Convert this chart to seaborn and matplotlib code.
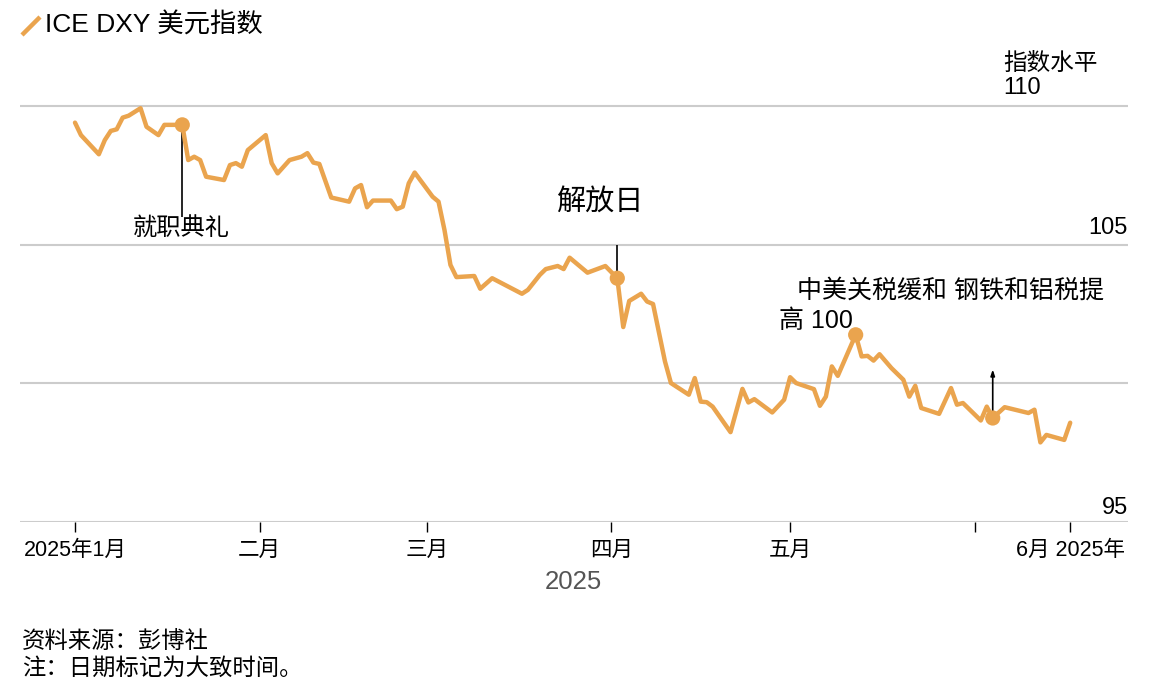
import pandas as pd
import matplotlib
matplotlib.use("Agg")
import matplotlib.pyplot as plt
import matplotlib.transforms as mtransforms
from matplotlib.lines import Line2D
import seaborn as sns

# ICE DXY 读数
dates = [
    "2025-01-01", "2025-01-02", "2025-01-05", "2025-01-06", "2025-01-07", "2025-01-08",
    "2025-01-09", "2025-01-10", "2025-01-12", "2025-01-13", "2025-01-15", "2025-01-16",
    "2025-01-17", "2025-01-19", "2025-01-20", "2025-01-21", "2025-01-22", "2025-01-23",
    "2025-01-26", "2025-01-27", "2025-01-28", "2025-01-29", "2025-01-30", "2025-02-02",
    "2025-02-03", "2025-02-04", "2025-02-06", "2025-02-08", "2025-02-09", "2025-02-10",
    "2025-02-11", "2025-02-13", "2025-02-16", "2025-02-17", "2025-02-18", "2025-02-19",
    "2025-02-20", "2025-02-23", "2025-02-24", "2025-02-25", "2025-02-26", "2025-02-27",
    "2025-03-02", "2025-03-03", "2025-03-04", "2025-03-05", "2025-03-06", "2025-03-09",
    "2025-03-10", "2025-03-12", "2025-03-17", "2025-03-18", "2025-03-20", "2025-03-21",
    "2025-03-23", "2025-03-24", "2025-03-25", "2025-03-28", "2025-03-31", "2025-04-02",
    "2025-04-03", "2025-04-04", "2025-04-06", "2025-04-07", "2025-04-08", "2025-04-10",
    "2025-04-11", "2025-04-14", "2025-04-15", "2025-04-16", "2025-04-17", "2025-04-18",
    "2025-04-21", "2025-04-23", "2025-04-24", "2025-04-25", "2025-04-28", "2025-04-30",
    "2025-05-01", "2025-05-02", "2025-05-05", "2025-05-06", "2025-05-07", "2025-05-08",
    "2025-05-09", "2025-05-12", "2025-05-13", "2025-05-14", "2025-05-15", "2025-05-16",
    "2025-05-18", "2025-05-20", "2025-05-21", "2025-05-22", "2025-05-23", "2025-05-26",
    "2025-05-28", "2025-05-29", "2025-05-30", "2025-06-02", "2025-06-03", "2025-06-04",
    "2025-06-06", "2025-06-10", "2025-06-11", "2025-06-12", "2025-06-13", "2025-06-16",
    "2025-06-17",
]
values = [
    109.40, 108.95, 108.26, 108.77, 109.10, 109.16,
    109.58, 109.65, 109.92, 109.25, 108.95, 109.32,
    109.32, 109.32, 108.05, 108.17, 108.05, 107.45,
    107.33, 107.87, 107.94, 107.81, 108.41, 108.95,
    107.94, 107.57, 108.05, 108.17, 108.30, 107.96,
    107.91, 106.70, 106.55, 107.03, 107.15, 106.35,
    106.59, 106.59, 106.28, 106.37, 107.21, 107.60,
    106.73, 106.55, 105.53, 104.27, 103.83, 103.87,
    103.41, 103.79, 103.23, 103.37, 103.91, 104.12,
    104.23, 104.12, 104.53, 103.99, 104.23, 103.79,
    102.03, 102.97, 103.23, 102.95, 102.86, 100.79,
    100.01, 99.59, 100.19, 99.34, 99.32, 99.16,
    98.24, 99.80, 99.31, 99.43, 98.95, 99.41,
    100.22, 100.01, 99.79, 99.19, 99.52, 100.61,
    100.27, 101.75, 100.97, 100.99, 100.82, 101.05,
    100.55, 100.13, 99.52, 99.91, 99.11, 98.90,
    99.83, 99.23, 99.29, 98.66, 99.16, 98.75,
    99.14, 98.93, 99.05, 97.87, 98.14, 97.96,
    98.58,
]

event_dates = ["2025-01-19", "2025-04-02", "2025-05-12", "2025-06-04"]

tick_dates = ["2025-01-01", "2025-02-01", "2025-03-01", "2025-04-01",
              "2025-05-01", "2025-06-01", "2025-06-17"]
tick_labels = ["2025年1月", "二月", "三月", "四月", "五月", "", "6月 2025年"]

grid_levels = [95, 100, 105, 110]

LINE = "#EAA44E"
GRID = "#CCCCCC"

df = pd.DataFrame({"date": pd.to_datetime(dates), "dxy": values})
ev = df[df["date"].isin(pd.to_datetime(event_dates))]

sns.set_style("white")
plt.rcParams["font.family"] = ["Liberation Sans", "Noto Sans CJK SC", "DejaVu Sans"]
plt.rcParams["text.color"] = "black"
plt.rcParams["xtick.labelcolor"] = "black"

fig = plt.figure(figsize=(11.62, 6.98), dpi=100)
W, H = 1162, 698
ax = fig.add_axes([20 / W, 176 / H, 1108 / W, 0.6556])

for g in grid_levels:
    ax.axhline(g, color=GRID, lw=1.5, zorder=0)

sns.lineplot(data=df, x="date", y="dxy", color=LINE, lw=3.2, ax=ax, zorder=3)
sns.scatterplot(data=ev, x="date", y="dxy", color=LINE, s=120, edgecolor="none",
                ax=ax, zorder=4)

start = pd.Timestamp("2025-01-01")
ax.set_xlim(start - pd.Timedelta(days=9.23), start + pd.Timedelta(days=176.7))
ax.set_ylim(95, 111.5)

ax.set_xticks(pd.to_datetime(tick_dates))
ax.set_xticklabels(tick_labels, fontsize=15.5, color="black")
ax.tick_params(axis="x", length=7, width=1, color="black", pad=6, bottom=True)
ax.set_yticks([])
ax.set_xlabel("")
ax.set_ylabel("")
for s in ax.spines.values():
    s.set_visible(False)

# 右侧刻度标签
tr = mtransforms.blended_transform_factory(ax.transAxes, ax.transData)
ax.annotate("105", xy=(1.0, 105), xycoords=tr, xytext=(0, 8), textcoords="offset points",
            ha="right", va="baseline", fontsize=17)
ax.annotate("95", xy=(1.0, 95), xycoords=tr, xytext=(0, 6), textcoords="offset points",
            ha="right", va="baseline", fontsize=17)
ax.annotate("指数水平\n110", xy=(983 / 1108, 110), xycoords=tr, xytext=(0, 8.5),
            textcoords="offset points", ha="left", va="baseline", fontsize=17,
            linespacing=1.15)

# 事件标注
d_inaug, d_lib, d_trade, d_steel = pd.to_datetime(event_dates)
v = dict(zip(ev["date"], ev["dxy"]))

ax.vlines(d_inaug, 106.0, v[d_inaug], color="black", lw=1.2, zorder=2)
ax.annotate("就职典礼", xy=(d_inaug, 105), xytext=(-1, 6), textcoords="offset points",
            ha="center", va="baseline", fontsize=17.5)

ax.vlines(d_lib, v[d_lib], 105, color="black", lw=1.2, zorder=2)
ax.annotate("解放日", xy=(d_lib, 105), xytext=(-13, 25), textcoords="offset points",
            ha="center", va="baseline", fontsize=21)

ax.annotate("中美关税缓和 钢铁和铝税提", xy=(d_trade, v[d_trade]), xytext=(-42, 27),
            textcoords="offset points", ha="left", va="baseline", fontsize=18)
ax.annotate("高 100", xy=(d_trade, v[d_trade]), xytext=(-55, 5),
            textcoords="offset points", ha="left", va="baseline", fontsize=18)

ax.annotate("", xy=(d_steel, 100.5), xytext=(d_steel, v[d_steel]),
            arrowprops=dict(arrowstyle="-|>,head_length=0.35,head_width=0.12",
                            color="black", lw=1.2, shrinkA=0, shrinkB=0), zorder=2)

# 图例
fig.add_artist(Line2D([22 / W, 40 / W], [1 - 35 / H, 1 - 17 / H], color=LINE, lw=3.2,
                      solid_capstyle="butt", transform=fig.transFigure))
fig.text(45 / W, 1 - 25 / H, "ICE DXY 美元指数", fontsize=19, va="center", ha="left")

fig.text(573 / W, 1 - 582 / H, "2025", fontsize=18.5, color="#555555", ha="center", va="center")

fig.text(22 / W, 1 - 642 / H, "资料来源：彭博社", fontsize=16.8, va="center", ha="left")
fig.text(22 / W, 1 - 668 / H, "注：日期标记为大致时间。", fontsize=16.8, va="center", ha="left")

fig.savefig("out.png", dpi=100)
